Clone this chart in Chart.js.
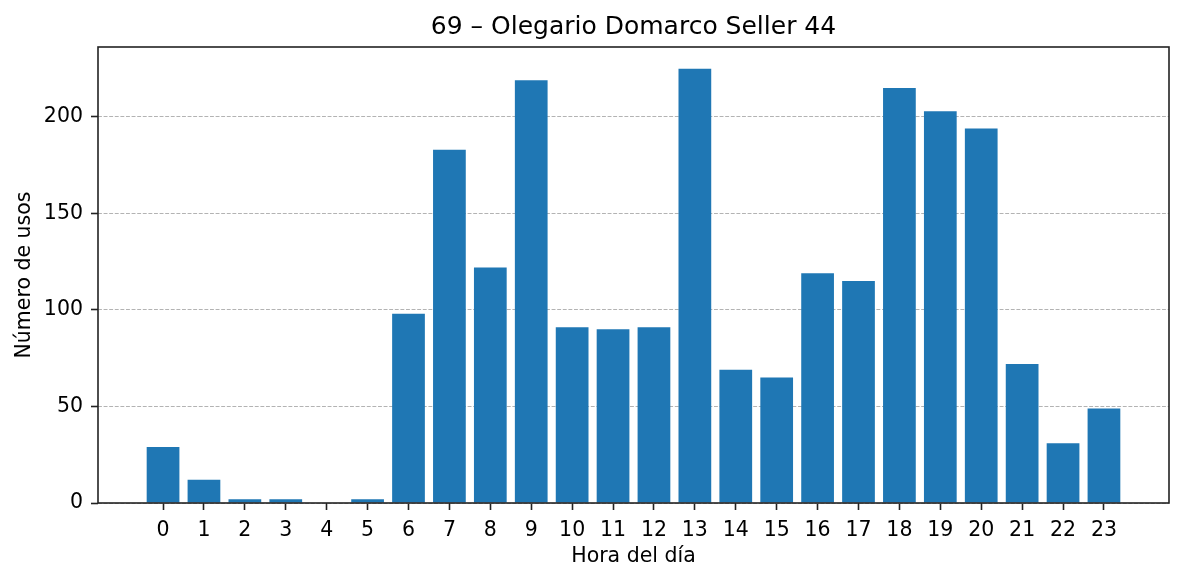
<!DOCTYPE html>
<html>
<head>
<meta charset="utf-8">
<script src="https://cdn.jsdelivr.net/npm/chart.js@4"></script>
<style>
  body { margin: 0; background: #fff; }
  #wrap { width: 1184px; height: 581px; position: relative; }
</style>
</head>
<body>
<div id="wrap"><canvas id="usageChart"></canvas></div>
<script>
const TITLE = '69 – Olegario Domarco Seller 44';
const hours = [0, 1, 2, 3, 4, 5, 6, 7, 8, 9, 10, 11, 12, 13, 14, 15, 16, 17, 18, 19, 20, 21, 22, 23];
const usos = [29, 12, 2, 2, 0, 2, 98, 183, 122, 219, 91, 90, 91, 225, 69, 65, 119, 115, 215, 203, 194, 72, 31, 49];
const yTicks = [0, 50, 100, 150, 200];

const FONT = "'DejaVu Sans', sans-serif";
const INK = '#222';

// full box around the plot, like the matplotlib spines
const frame = {
    id: 'frame',
    afterDraw(chart) {
        const { ctx, chartArea: a } = chart;
        ctx.save();
        ctx.strokeStyle = INK;
        ctx.lineWidth = 1.6;
        ctx.strokeRect(a.left, a.top, a.right - a.left, a.bottom - a.top);
        ctx.restore();
    }
};

const ctx = document.getElementById('usageChart').getContext('2d');
new Chart(ctx, {
    type: 'bar',
    data: {
        datasets: [{
            data: hours.map((h, i) => ({ x: h, y: usos[i] })),
            backgroundColor: '#1f77b4',
            borderWidth: 0,
            barPercentage: 0.8,
            categoryPercentage: 1.0
        }]
    },
    options: {
        responsive: true,
        maintainAspectRatio: false,
        animation: false,
        layout: { padding: { left: 0, right: 15, top: 0, bottom: 0 } },
        plugins: {
            legend: { display: false },
            tooltip: { enabled: false },
            title: {
                display: true,
                fullSize: false, // center over the plot area, not the canvas
                text: TITLE,
                color: '#000',
                font: { family: FONT, size: 25, weight: 'normal' },
                padding: { top: 12.5, bottom: 4.5 }
            }
        },
        scales: {
            x: {
                type: 'linear',
                offset: false,
                min: -1.59,
                max: 24.59,
                afterBuildTicks: s => { s.ticks = hours.map(v => ({ value: v })); },
                afterFit: s => { s.height = 78; },
                ticks: {
                    autoSkip: false,
                    maxRotation: 0,
                    padding: 8,
                    color: '#000',
                    font: { family: FONT, size: 20.5 }
                },
                grid: {
                    offset: false,
                    drawOnChartArea: false,
                    tickLength: 7,
                    tickWidth: 1.6,
                    tickColor: INK
                },
                border: { display: false },
                title: {
                    display: true,
                    text: 'Hora del día',
                    color: '#000',
                    font: { family: FONT, size: 20.5 },
                    padding: { top: 0, bottom: 12 }
                }
            },
            y: {
                min: 0,
                max: 236.25,
                z: 1,
                afterBuildTicks: s => { s.ticks = yTicks.map(v => ({ value: v })); },
                afterFit: s => { s.width = 98; },
                ticks: {
                    padding: 8,
                    color: '#000',
                    font: { family: FONT, size: 20.5 }
                },
                grid: {
                    color: '#b3b3b3',
                    lineWidth: 1,
                    tickLength: 7,
                    tickWidth: 1.6,
                    tickColor: INK,
                    tickBorderDash: []
                },
                border: { display: false, dash: [3.9, 1.7] },
                title: {
                    display: true,
                    text: 'Número de usos',
                    color: '#000',
                    font: { family: FONT, size: 20.5 },
                    padding: { top: 12.6, bottom: 0 }
                }
            }
        }
    },
    plugins: [frame]
});
</script>
</body>
</html>
